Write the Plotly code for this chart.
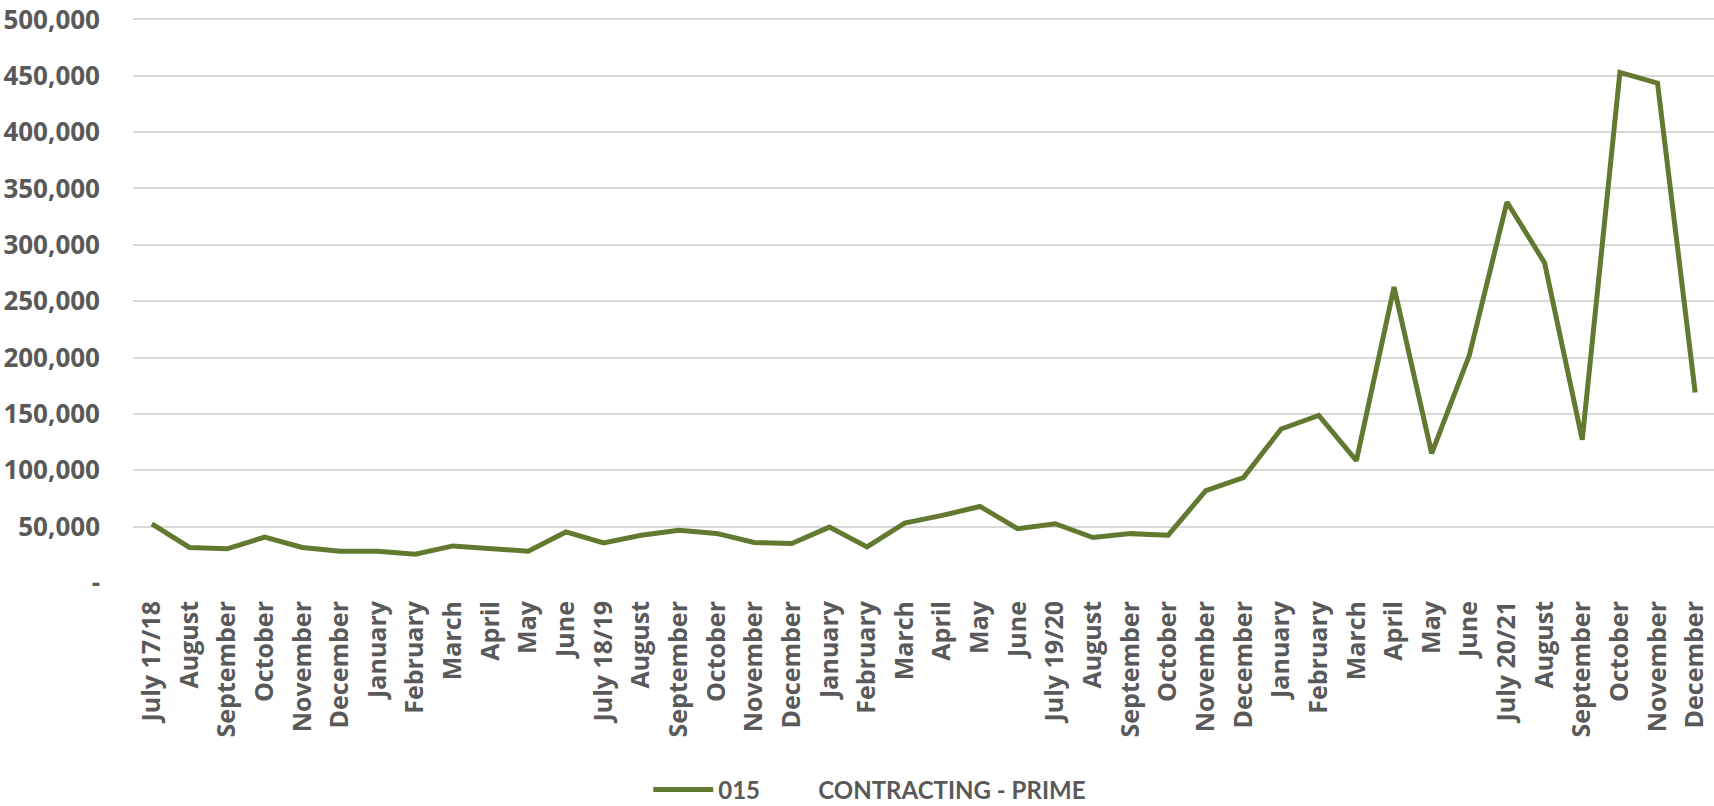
import plotly.graph_objects as go

categories = [
    "July 17/18", "August", "September", "October", "November", "December",
    "January", "February", "March", "April", "May", "June",
    "July 18/19", "August", "September", "October", "November", "December",
    "January", "February", "March", "April", "May", "June",
    "July 19/20", "August", "September", "October", "November", "December",
    "January", "February", "March", "April", "May", "June",
    "July 20/21", "August", "September", "October", "November", "December",
]

values = [
    52500, 31500, 30300, 40800, 31500, 28200, 28200, 25600, 32900, 30500, 28200, 45300,
    35600, 42300, 46800, 44000, 35900, 35000, 49600, 32000, 53200, 60000, 67900, 48200,
    52600, 40300, 43800, 42400, 82000, 93500, 136600, 148600, 108500, 262500, 115000, 202000,
    338000, 284000, 127000, 453000, 443500, 169000,
]

series_name = "015" + "\u00a0" * 10 + "CONTRACTING - PRIME"

y_tickvals = [0, 50000, 100000, 150000, 200000, 250000, 300000, 350000, 400000, 450000, 500000]
y_ticktext = ["-", "50,000", "100,000", "150,000", "200,000", "250,000",
              "300,000", "350,000", "400,000", "450,000", "500,000"]

x_idx = list(range(len(categories)))

fig = go.Figure()
fig.add_trace(go.Scatter(
    x=x_idx, y=values, mode="lines", name=series_name,
    line=dict(color="#627930", width=5),
    showlegend=True,
))

fig.update_layout(
    width=1714, height=806,
    margin=dict(l=133, r=0, t=15, b=223),
    paper_bgcolor="white", plot_bgcolor="white",
    showlegend=True,
    legend=dict(
        orientation="h", xref="paper", yref="container",
        x=0.466, xanchor="center", y=0.02, yanchor="middle",
        font=dict(family="Lato", size=24, color="#595959", weight=700),
        itemwidth=60,
    ),
    xaxis=dict(
        range=[-0.5, len(categories) - 0.5],
        tickmode="array", tickvals=x_idx, ticktext=categories,
        tickangle=-90,
        tickfont=dict(family="Open Sans", size=25, color="#595959", weight=700),
        showgrid=False, zeroline=False, showline=False,
        ticks="", ticklabelstandoff=12, automargin=False,
    ),
    yaxis=dict(
        range=[0, 503900],
        tickmode="array", tickvals=y_tickvals, ticktext=y_ticktext,
        tickfont=dict(family="Open Sans", size=26, color="#595959", weight=700),
        showgrid=True, gridcolor="#d9d9d9", gridwidth=1.5,
        zeroline=False, showline=False,
        ticks="", ticklabelstandoff=32, automargin=False,
        ticklabeloverflow="allow",
    ),
)

fig.write_html("out.html", config={"displayModeBar": False},
               post_script="document.body.style.margin='0';")
